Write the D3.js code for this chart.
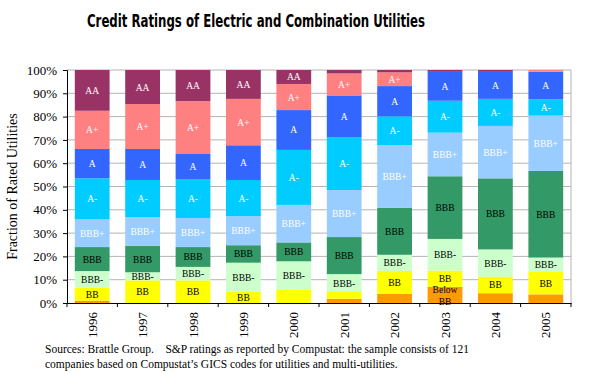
<!DOCTYPE html>
<html>
<head>
<meta charset="utf-8">
<script src="https://cdn.jsdelivr.net/npm/d3@7"></script>
<style>
  body { margin: 0; background: #fff; }
  svg { display: block; }
  .seg-label { font-family: "Liberation Serif", "Times New Roman", serif; font-size: 9.5px; }
  .tick-y text, .tick-x text { font-family: "Liberation Serif", "Times New Roman", serif; }
</style>
</head>
<body>
<div id="chart"></div>
<script>
// years on the x axis
const years = ["1996", "1997", "1998", "1999", "2000", "2001", "2002", "2003", "2004", "2005"];

// rating classes, bottom of the stack first
const ratings = ["Below BB", "BB", "BBB-", "BBB", "BBB+", "A-", "A", "A+", "AA"];

// percent of rated utilities per year, one array per rating (1996..2005)
const belowBB = [1.0, 0, 0, 0, 0, 1.8, 3.9, 6.9, 4.2, 3.7];
const bb      = [5.6, 9.7, 9.7, 4.9, 5.7, 2.9, 9.8, 7.0, 7.1, 9.6];
const bbbMinus= [7.1, 3.5, 5.8, 12.4, 12.2, 7.7, 7.0, 13.6, 11.7, 6.2];
const bbb     = [10.3, 11.3, 8.5, 7.5, 8.1, 15.9, 20.1, 26.9, 30.5, 37.2];
const bbbPlus = [11.9, 12.4, 12.5, 12.5, 16.1, 20.2, 27.0, 18.7, 22.5, 23.7];
const aMinus  = [17.6, 15.9, 16.7, 15.5, 23.6, 22.7, 12.3, 13.7, 11.6, 7.0];
const aMid    = [12.6, 13.3, 11.0, 14.9, 17.1, 17.9, 13.0, 12.4, 11.6, 11.9];
const aPlus   = [16.4, 19.3, 22.4, 19.9, 11.2, 9.4, 5.9, 0, 0, 0.7];
const aa      = [17.5, 14.6, 13.4, 12.4, 6.0, 1.5, 1.0, 0.8, 0.8, 0];

// segment labels that the original leaves out
const hiddenLabels = ["2000|BB", "2001|BB", "2002|Below BB", "2004|Below BB", "2005|Below BB"];

const yTicks = [0, 10, 20, 30, 40, 50, 60, 70, 80, 90, 100];

const colors = {
  "AA": "#993366", "A+": "#ff8080", "A": "#3366ff", "A-": "#00ccff",
  "BBB+": "#99ccff", "BBB": "#339966", "BBB-": "#ccffcc", "BB": "#ffff00", "Below BB": "#ff9900"
};
const whiteText = ["AA", "A+", "A", "A-", "BBB+"];

const series = [belowBB, bb, bbbMinus, bbb, bbbPlus, aMinus, aMid, aPlus, aa];
const table = years.map((y, i) => {
  let row = { year: y };
  ratings.forEach((r, j) => { row[r] = series[j][i]; });
  return row;
});

const W = 593, H = 374;
const margin = { top: 70, right: 22, bottom: 71, left: 67 };
const width = W - margin.left - margin.right;
const height = H - margin.top - margin.bottom;

const svg = d3.select("#chart").append("svg").attr("width", W).attr("height", H);

// title
svg.append("text")
  .attr("x", 256).attr("y", 27)
  .attr("text-anchor", "middle")
  .attr("textLength", 338)
  .attr("lengthAdjust", "spacingAndGlyphs")
  .style("font-family", "'Liberation Sans Narrow', 'DejaVu Sans Condensed', 'Arial Narrow', sans-serif")
  .style("font-weight", "bold")
  .style("font-size", "17px")
  .text("Credit Ratings of Electric and Combination Utilities");

const g = svg.append("g").attr("transform", `translate(${margin.left},${margin.top})`);

const x = d3.scaleBand().domain(years).range([0, width]).paddingInner(0.31).paddingOuter(0.155);
const xCat = d3.scaleBand().domain(years).range([0, width]).padding(0);
const y = d3.scaleLinear().domain([0, 100]).range([height, 0]);

// gridlines
g.append("g").selectAll("line").data(yTicks.slice(1)).enter().append("line")
  .attr("x1", 0).attr("x2", width)
  .attr("y1", d => y(d)).attr("y2", d => y(d))
  .attr("stroke", "#b4b4b4").attr("stroke-width", 1);
g.append("line").attr("x1", width).attr("x2", width).attr("y1", 0).attr("y2", height)
  .attr("stroke", "#b4b4b4");

// stacked bars
const stacked = d3.stack().keys(ratings)(table);

const layers = g.append("g").selectAll("g").data(stacked).enter().append("g")
  .attr("fill", d => colors[d.key]);

layers.selectAll("rect").data(d => d).enter().append("rect")
  .attr("x", d => x(d.data.year))
  .attr("width", x.bandwidth())
  .attr("y", d => y(d[1]))
  .attr("height", d => y(d[0]) - y(d[1]));

// segment labels
stacked.forEach(layer => {
  layer.forEach(d => {
    let val = d[1] - d[0];
    let id = d.data.year + "|" + layer.key;
    if (val < 3.4 || hiddenLabels.includes(id)) return;
    let cx = x(d.data.year) + x.bandwidth() / 2;
    let cy = (y(d[0]) + y(d[1])) / 2;
    let t = g.append("text")
      .attr("class", "seg-label")
      .attr("text-anchor", "middle")
      .attr("fill", whiteText.includes(layer.key) ? "#fff" : "#000");
    if (layer.key === "Below BB") {
      t.append("tspan").attr("x", cx).attr("y", cy - 2).text("Below");
      t.append("tspan").attr("x", cx).attr("y", cy + 10).text("BB");
    } else {
      t.attr("x", cx).attr("y", cy + 3.5).text(layer.key);
    }
  });
});

// y axis
const yAxis = d3.axisLeft(y).tickValues(yTicks).tickFormat(d => d + "%").tickSize(4).tickPadding(6);
const ya = g.append("g").attr("class", "tick-y").call(yAxis);
ya.select(".domain").attr("stroke", "#000");
ya.selectAll("text").style("font-size", "13px").attr("fill", "#000");

// x axis
const xAxis = d3.axisBottom(xCat).tickSize(0).tickFormat(d => d);
const xa = g.append("g").attr("class", "tick-x").attr("transform", `translate(0,${height})`).call(xAxis);
xa.select(".domain").attr("stroke", "#000");
xa.selectAll("text")
  .style("font-size", "13px")
  .attr("fill", "#000")
  .attr("text-anchor", "end")
  .attr("transform", "rotate(-90)")
  .attr("x", -9).attr("y", 0).attr("dy", "0.35em");

// x ticks between categories
xa.append("g").selectAll("line").data(years.concat(["end"])).enter().append("line")
  .attr("x1", (d, i) => i < years.length ? xCat(d) : width)
  .attr("x2", (d, i) => i < years.length ? xCat(d) : width)
  .attr("y1", 0).attr("y2", 4)
  .attr("stroke", "#000");

// y axis title
svg.append("text")
  .attr("transform", `translate(17,${margin.top + height / 2}) rotate(-90)`)
  .attr("text-anchor", "middle")
  .style("font-family", "'Liberation Serif', 'Times New Roman', serif")
  .style("font-size", "14px")
  .text("Fraction of Rated Utilities");

// footnote
const note = svg.append("text")
  .style("font-family", "'Liberation Serif', 'Times New Roman', serif")
  .style("font-size", "11.5px");
note.append("tspan").attr("x", 45).attr("y", 353)
  .attr("xml:space", "preserve")
  .text("Sources: Brattle Group.    S&P ratings as reported by Compustat: the sample consists of 121");
note.append("tspan").attr("x", 45).attr("y", 368)
  .text("companies based on Compustat\u2019s GICS codes for utilities  and multi-utilities.");
</script>
</body>
</html>
